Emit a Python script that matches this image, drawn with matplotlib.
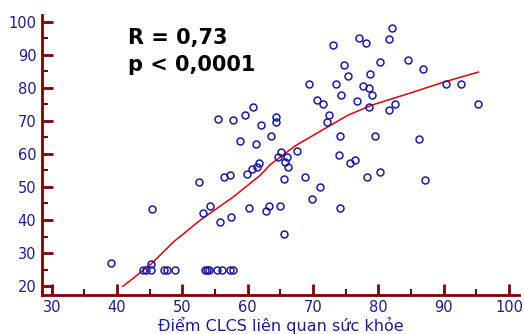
import numpy as np
import matplotlib.pyplot as plt
from matplotlib.ticker import MultipleLocator

# Diem CLCS lien quan suc khoe (truc x) va diem thu hai (truc y)
x_pts = [39.0, 43.9, 44.5, 45.2, 47.2, 47.7, 48.9, 53.4, 53.7, 54.1, 55.3, 56.0, 57.3, 57.7,
         45.2, 45.3, 52.5, 53.2, 54.3, 55.7, 56.4, 57.3, 57.5, 59.9, 60.2, 60.6, 61.5, 61.7,
         66.2, 65.6, 68.8, 78.2, 80.3, 87.2, 71.1, 69.8, 74.1, 64.9, 63.3, 62.8, 65.6,
         60.8, 55.4, 57.8, 59.6, 64.4, 64.3, 62.1, 63.5, 58.9, 61.3, 65.1, 64.7, 66.0, 67.5, 65.7,
         82.1, 81.7, 77.1, 78.1, 73.0, 80.3, 84.6, 74.7, 75.4, 78.7, 69.4, 73.5, 77.6, 78.5,
         74.3, 79.0, 70.6, 71.5, 76.7, 82.6, 78.5, 81.6, 86.8, 90.4, 92.6, 95.3,
         72.5, 72.1, 74.1, 79.5, 74.0, 76.4, 75.7, 86.2]
y_pts = [27.0, 25, 25, 25, 25, 25, 25, 25, 25, 25, 25, 25, 25, 25,
         26.6, 43.2, 51.5, 42.1, 44.2, 39.5, 53.0, 53.5, 41.0, 54.0, 43.6, 55.5, 56.1, 57.3,
         56.1, 52.5, 53.0, 53.0, 54.5, 52.0, 49.9, 46.3, 43.6, 44.2, 44.2, 42.6, 35.9,
         74.3, 70.7, 70.2, 71.8, 71.3, 69.6, 68.7, 65.5, 63.9, 62.9, 60.7, 59.2, 59.2, 60.9, 57.6,
         98.3, 94.7, 95.2, 93.6, 93.1, 88.0, 88.5, 86.9, 83.7, 84.2, 81.2, 81.1, 80.6, 80.1,
         78.0, 78.0, 76.5, 75.0, 76.0, 75.0, 74.3, 73.3, 85.8, 81.1, 81.1, 75.0,
         71.8, 69.6, 65.5, 65.5, 59.8, 58.2, 57.2, 64.5]

# duong lam tron (loess)
x_fit = [40.9, 45.3, 48.6, 52.7, 57.8, 61.9, 63.4, 67.3, 71.9, 75.4, 79.0, 85.1, 90.2, 95.3]
y_fit = [19.9, 26.8, 33.3, 39.9, 47.0, 53.5, 56.7, 62.5, 67.8, 71.8, 74.8, 78.6, 81.9, 84.8]

navy = '#1c1c8c'
spine_red = '#800000'

fig = plt.figure(figsize=(5.24, 3.34), dpi=100)
ax = fig.add_axes([0.080, 0.117, 0.910, 0.838])

ax.plot(x_pts, y_pts, 'o', ms=5.0, mfc='none', mec='#1a1aa0', mew=1.1, zorder=3)
ax.plot(x_fit, y_fit, '-', color='#e00000', lw=1.1, zorder=2)

ax.set_xlim(28.5, 101.5)
ax.set_ylim(17.3, 102.1)
ax.xaxis.set_major_locator(MultipleLocator(10))
ax.xaxis.set_minor_locator(MultipleLocator(5))
ax.yaxis.set_major_locator(MultipleLocator(10))
ax.yaxis.set_minor_locator(MultipleLocator(5))

for s in ['top', 'right']:
    ax.spines[s].set_visible(False)
for s in ['left', 'bottom']:
    ax.spines[s].set_color(spine_red)
    ax.spines[s].set_linewidth(2)

ax.tick_params(which='major', direction='in', length=8, width=2, color=spine_red,
               labelcolor=navy, labelsize=10.5, pad=4)
ax.tick_params(which='minor', direction='in', length=4, width=1.5, color=spine_red)

ax.set_xlabel('Điểm CLCS liên quan sức khỏe', color=navy, fontsize=11.5, labelpad=1)

fig.text(0.245, 0.885, 'R = 0,73', fontsize=15, fontweight='bold', va='center')
fig.text(0.245, 0.805, 'p < 0,0001', fontsize=15, fontweight='bold', va='center')

fig.savefig('out.png', dpi=100)
